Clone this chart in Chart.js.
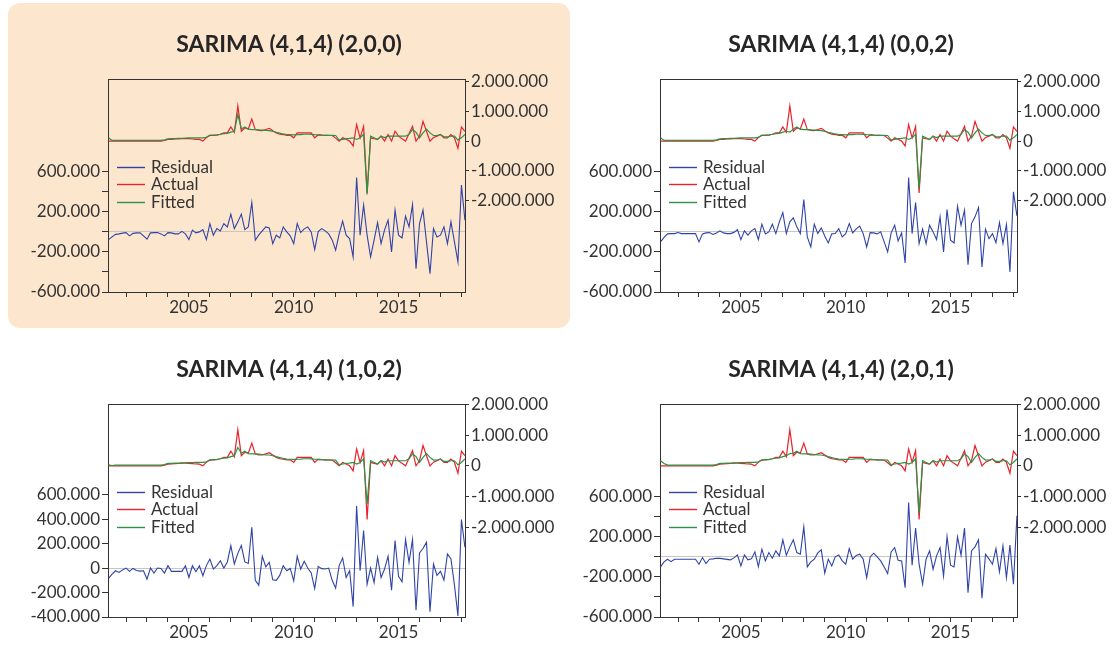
<!DOCTYPE html>
<html>
<head>
<meta charset="utf-8">
<script src="https://cdn.jsdelivr.net/npm/chart.js@4.4.1/dist/chart.umd.min.js"></script>
<style>
  body { margin: 0; background: #fff; width: 1113px; height: 646px; overflow: hidden; position: relative; }
  .panel { position: absolute; width: 562px; height: 325px; }
  .panel canvas { position: absolute; left: 0; top: 0; }
  #p1 { left: 8px; top: 3px; background: #fde6ce; border-radius: 12px; }
  #p2 { left: 560px; top: 3px; }
  #p3 { left: 8px; top: 328px; }
  #p4 { left: 560px; top: 328px; }
</style>
</head>
<body>
<div class="panel" id="p1"><canvas id="c1" width="562" height="325"></canvas></div>
<div class="panel" id="p2"><canvas id="c2" width="562" height="325"></canvas></div>
<div class="panel" id="p3"><canvas id="c3" width="562" height="325"></canvas></div>
<div class="panel" id="p4"><canvas id="c4" width="562" height="325"></canvas></div>
<script>
// bimonthly observations, values in thousands
const periods = [
  '2001-03','2001-05','2001-07','2001-09','2001-11',
  '2002-01','2002-03','2002-05','2002-07','2002-09','2002-11',
  '2003-01','2003-03','2003-05','2003-07','2003-09','2003-11',
  '2004-01','2004-03','2004-05','2004-07','2004-09','2004-11',
  '2005-01','2005-03','2005-05','2005-07','2005-09','2005-11',
  '2006-01','2006-03','2006-05','2006-07','2006-09','2006-11',
  '2007-01','2007-03','2007-05','2007-07','2007-09','2007-11',
  '2008-01','2008-03','2008-05','2008-07','2008-09','2008-11',
  '2009-01','2009-03','2009-05','2009-07','2009-09','2009-11',
  '2010-01','2010-03','2010-05','2010-07','2010-09','2010-11',
  '2011-01','2011-03','2011-05','2011-07','2011-09','2011-11',
  '2012-01','2012-03','2012-05','2012-07','2012-09','2012-11',
  '2013-01','2013-03','2013-05','2013-07','2013-09','2013-11',
  '2014-01','2014-03','2014-05','2014-07','2014-09','2014-11',
  '2015-01','2015-03','2015-05','2015-07','2015-09','2015-11',
  '2016-01','2016-03','2016-05','2016-07','2016-09','2016-11',
  '2017-01','2017-03','2017-05','2017-07','2017-09','2017-11',
  '2018-01','2018-03'
];

const actual = [
  0, 0, 0, 0, 0, 0, 0, 0, 0, 0,
  0, 0, 0, 0, 0, 0, 20, 55, 60, 70,
  75, 85, 88, 80, 70, 60, 55, 0, 120, 188,
  190, 199, 230, 276, 276, 475, 298, 1182, 331, 442,
  409, 740, 387, 360, 354, 390, 430, 350, 276, 230,
  221, 190, 200, 110, 276, 276, 276, 276, 276, 110,
  210, 200, 195, 190, 188, 100, 0, 110, 60, 0,
  -166, 553, 110, 497, -1750, 110, 80, 55, 166, 0,
  221, 0, 331, 166, 80, 0, 250, 497, 0, 166,
  663, 331, 0, 120, 166, 221, 110, 110, 221, 110,
  -243, 475, 331
];

const fitted200 = [
  110, 22, 22, 22, 22, 22, 22, 22, 22, 22,
  22, 22, 22, 22, 22, 22, 40, 77, 80, 85,
  90, 95, 100, 105, 108, 110, 110, 110, 130, 199,
  205, 210, 230, 254, 260, 300, 331, 900, 409, 475,
  400, 387, 390, 380, 370, 360, 354, 330, 298, 270,
  240, 221, 215, 210, 215, 221, 230, 230, 225, 215,
  210, 200, 195, 192, 190, 188, 33, 60, 80, 90,
  110, 55, 110, 230, -1800, 166, 110, 55, 166, 120,
  166, 166, 166, 166, 166, 166, 230, 387, 300, 110,
  276, 400, 276, 188, 188, 221, 144, 144, 166, 166,
  33, 110, 221
];
const fitted002 = [
  110, 22, 22, 22, 22, 22, 22, 22, 22, 22,
  22, 22, 22, 22, 22, 22, 40, 77, 80, 85,
  90, 95, 100, 105, 108, 110, 110, 110, 130, 199,
  205, 210, 230, 254, 260, 300, 331, 300, 409, 475,
  400, 387, 390, 380, 370, 360, 354, 330, 298, 270,
  240, 221, 215, 210, 215, 221, 230, 230, 225, 215,
  210, 200, 195, 192, 190, 188, 33, 60, 80, 90,
  110, 55, 110, 230, -1600, 166, 110, 55, 166, 120,
  166, 166, 166, 166, 166, 166, 230, 387, 300, 110,
  276, 400, 276, 188, 188, 221, 144, 144, 166, 166,
  33, 110, 221
];
const fitted102 = [
  33, 10, 22, 22, 22, 22, 22, 22, 22, 22,
  22, 22, 22, 22, 22, 22, 40, 77, 80, 85,
  90, 95, 100, 105, 108, 110, 110, 110, 130, 199,
  205, 210, 230, 254, 260, 300, 331, 600, 409, 475,
  400, 387, 390, 380, 370, 360, 354, 330, 298, 270,
  240, 221, 215, 210, 215, 221, 230, 230, 225, 215,
  210, 200, 195, 192, 190, 188, 33, 60, 80, 90,
  110, 55, 110, 230, -1250, 166, 110, 55, 166, 120,
  166, 166, 166, 166, 166, 166, 230, 387, 300, 110,
  276, 400, 276, 188, 188, 221, 144, 144, 166, 166,
  33, 110, 221
];
const fitted201 = [
  166, 77, 22, 22, 22, 22, 22, 22, 22, 22,
  22, 22, 22, 22, 22, 22, 40, 77, 80, 85,
  90, 95, 100, 105, 108, 110, 110, 110, 130, 199,
  205, 210, 230, 254, 260, 300, 331, 400, 409, 475,
  400, 387, 390, 380, 370, 360, 354, 330, 298, 270,
  240, 221, 215, 210, 215, 221, 230, 230, 225, 215,
  210, 200, 195, 192, 190, 188, 33, 60, 80, 90,
  110, 55, 110, 230, -1550, 166, 110, 55, 166, 120,
  166, 166, 166, 166, 166, 166, 230, 387, 300, 110,
  276, 400, 276, 188, 188, 221, 144, 144, 166, 166,
  33, 110, 221
];

const resid200 = [
  -77, -50, -25, -20, -12, -7, -40, -15, -10, -10,
  -40, -73, -10, -7, -7, -20, -40, -7, -10, -20,
  -20, 5, -20, -77, 17, -10, 0, 23, -77, 83,
  -33, 33, 10, 83, 50, 177, 33, 100, 177, 23,
  50, 293, -83, -30, 10, 50, 40, -117, -33, -60,
  50, 0, -40, -117, 83, -7, 30, 50, 0, -177,
  3, 33, 10, -20, -80, -183, -20, 107, -33, -67,
  -250, 543, -33, 267, -33, -250, -83, 93, -117, 20,
  117, -200, 217, -33, -60, 157, 50, 273, -367, 83,
  217, -100, -417, 33, -50, -33, 50, -117, 100, -100,
  -300, 467, 117
];
const resid002 = [
  -100, -55, -20, -17, -17, -7, -17, -17, -17, -17,
  -17, -100, -20, -10, -7, -25, -10, 10, -10, -17,
  -17, -5, 23, -77, 10, -33, 10, 33, -77, 77,
  -20, 0, 77, -17, 100, 193, -17, 100, 140, 50,
  -17, 323, -50, -150, 77, -17, 40, -40, -110, -20,
  -17, 33, -50, -17, 83, -10, 30, 57, -17, -150,
  -7, -10, -20, 0, -100, -200, -10, 67, -90, -10,
  -310, 543, -17, 293, -117, 27, -117, 67, 0, -77,
  150, -200, 223, -83, -110, 257, 67, 217, -327, 83,
  150, 243, -350, 27, -67, -17, -107, 93, -117, 73,
  -400, 400, 160
];
const resid102 = [
  -85, -50, -22, -36, -15, 0, -27, -3, -20, -25,
  -22, -90, 0, -41, 0, -3, -41, 19, -27, -27,
  -27, -27, 19, -77, 19, -30, 19, -63, 20, 74,
  -8, 20, 60, 0, 50, 184, 33, 120, 184, 50,
  38, 334, -100, -140, 96, 10, 47, -96, -100, -60,
  19, -22, -3, -104, 96, -8, 55, 0, -40, -167,
  14, -5, -8, 0, -100, -164, 20, 82, -77, -22,
  -315, 507, -22, 307, -132, 0, -118, 88, -77, -8,
  96, -181, 225, -68, -112, 233, 47, 233, -345, 123,
  160, 211, -356, 33, -60, -27, -99, 115, 74, -137,
  -392, 397, 170
];
const resid201 = [
  -100, -50, -23, -47, -23, -23, -23, -23, -23, -23,
  -23, -73, -7, -67, -23, -20, -13, -15, -20, -25,
  -30, -10, 20, -90, 20, -30, -20, 50, -97, 77,
  -40, 43, -13, 60, 10, 170, 17, 100, 170, 43,
  27, 300, -100, -50, -23, 40, 70, -163, -23, -90,
  0, 20, -40, -73, 83, -23, 15, 27, -23, -207,
  0, 37, 0, -40, -100, -167, 50, 93, -33, -40,
  -307, 543, -83, 287, -73, -273, -23, 60, -123, 10,
  93, -190, 203, -83, -100, 200, 17, 287, -357, 60,
  100, 170, -413, 27, -20, -73, 83, -150, 110, -207,
  117, -273, 410
];

const yearTicks = [2002, 2003, 2004, 2005, 2006, 2007, 2008, 2009, 2010, 2011, 2012, 2013, 2014, 2015, 2016, 2017, 2018];
const rightTicks = [-2000, -1000, 0, 1000, 2000];

var INK = '#333333';
var FONT = 'Lato, "Open Sans", sans-serif';

var xs = periods.map((p) => {
  var parts = p.split('-');
  return Number(parts[0]) + (Number(parts[1]) - 1) / 12;
});

function points(values) {
  return values.map((v, i) => ({x: xs[i], y: v}));
}

// thousands -> "2.000.000"
function fmt(k) {
  var v = Math.round(k * 1000);
  var s = Math.abs(v).toString().replace(/\B(?=(\d{3})+(?!\d))/g, '.');
  return (v < 0 ? '-' : '') + s;
}

const insideLegend = {
  id: 'insideLegend',
  afterDraw(chart) {
    const {ctx, chartArea} = chart;
    ctx.save();
    ctx.font = '17px ' + FONT;
    ctx.textBaseline = 'middle';
    chart.data.datasets.forEach((ds, k) => {
      var y = Math.round(chartArea.top + 87 + k * 17.5) + 0.5;
      ctx.strokeStyle = ds.borderColor;
      ctx.lineWidth = 1.4;
      ctx.beginPath();
      ctx.moveTo(chartArea.left + 9, y);
      ctx.lineTo(chartArea.left + 37, y);
      ctx.stroke();
      ctx.fillStyle = INK;
      ctx.fillText(ds.label, chartArea.left + 43, y);
    });
    ctx.restore();
  }
};

function makePanel(canvasId, title, resid, fitted, left, right) {
  const ctx = document.getElementById(canvasId);
  new Chart(ctx, {
    type: 'line',
    data: {
      datasets: [
        {label: 'Residual', data: points(resid), yAxisID: 'y', borderColor: '#2f44a6', borderWidth: 1.1, order: 3},
        {label: 'Actual', data: points(actual), yAxisID: 'y1', borderColor: '#ea222b', borderWidth: 1.2, order: 2},
        {label: 'Fitted', data: points(fitted), yAxisID: 'y1', borderColor: '#2b9346', borderWidth: 1.2, order: 1}
      ]
    },
    options: {
      responsive: false,
      animation: false,
      devicePixelRatio: 1,
      layout: {padding: 0},
      elements: {point: {radius: 0}, line: {tension: 0, fill: false}},
      plugins: {
        legend: {display: false},
        tooltip: {enabled: false},
        title: {
          display: true,
          text: title,
          color: '#262626',
          font: {family: FONT, size: 23, weight: 'bold'},
          padding: {top: 28, bottom: 21}
        }
      },
      scales: {
        x: {
          type: 'linear',
          position: 'bottom',
          min: 2001.14,
          max: 2018.17,
          afterBuildTicks: (s) => { s.ticks = yearTicks.map((v) => ({value: v})); },
          afterFit: (s) => { s.height = 36; },
          ticks: {
            autoSkip: false,
            maxRotation: 0,
            padding: 0,
            color: INK,
            font: {family: FONT, size: 17},
            callback: (v) => (v % 5 === 0 ? String(v) : '')
          },
          grid: {drawOnChartArea: false, tickLength: 5, tickColor: INK},
          border: {color: INK, width: 1}
        },
        x2: {
          type: 'linear',
          position: 'top',
          min: 2001.14,
          max: 2018.17,
          afterFit: (s) => { s.height = 0; },
          ticks: {display: false},
          grid: {display: false},
          border: {color: INK, width: 1}
        },
        y: {
          position: 'left',
          min: left.min,
          max: left.max,
          afterBuildTicks: (s) => { s.ticks = left.ticks.map((v) => ({value: v})); },
          afterFit: (s) => { s.width = 100; },
          ticks: {
            autoSkip: false,
            padding: 2,
            color: INK,
            font: {family: FONT, size: 17},
            callback: (v) => (left.labels.includes(v) ? fmt(v) : '')
          },
          grid: {
            color: (c) => (c.tick && c.tick.value === 0 ? '#c9c6c2' : 'rgba(0,0,0,0)'),
            tickColor: INK,
            tickLength: 6
          },
          border: {color: INK, width: 1}
        },
        y1: {
          position: 'right',
          min: right.min,
          max: right.max,
          afterBuildTicks: (s) => { s.ticks = rightTicks.map((v) => ({value: v})); },
          afterFit: (s) => { s.width = 105; },
          ticks: {
            autoSkip: false,
            padding: 2,
            color: INK,
            font: {family: FONT, size: 17},
            callback: (v) => fmt(v)
          },
          grid: {drawOnChartArea: false, tickColor: INK, tickLength: 4},
          border: {color: INK, width: 1}
        }
      }
    },
    plugins: [insideLegend]
  });
}

var leftWide = {min: -600, max: 1520, ticks: [-600, -400, -200, 0, 200, 400, 600], labels: [-600, -200, 200, 600]};
var leftNarrow = {min: -400, max: 1336, ticks: [-400, -200, 0, 200, 400, 600], labels: [-400, -200, 0, 200, 400, 600]};
var rightTop = {min: -5080, max: 2070};
var rightBottom = {min: -4940, max: 2000};

makePanel('c1', 'SARIMA (4,1,4) (2,0,0)', resid200, fitted200, leftWide, rightTop);
makePanel('c2', 'SARIMA (4,1,4) (0,0,2)', resid002, fitted002, leftWide, rightTop);
makePanel('c3', 'SARIMA (4,1,4) (1,0,2)', resid102, fitted102, leftNarrow, rightBottom);
makePanel('c4', 'SARIMA (4,1,4) (2,0,1)', resid201, fitted201, leftWide, rightBottom);
</script>
</body>
</html>
